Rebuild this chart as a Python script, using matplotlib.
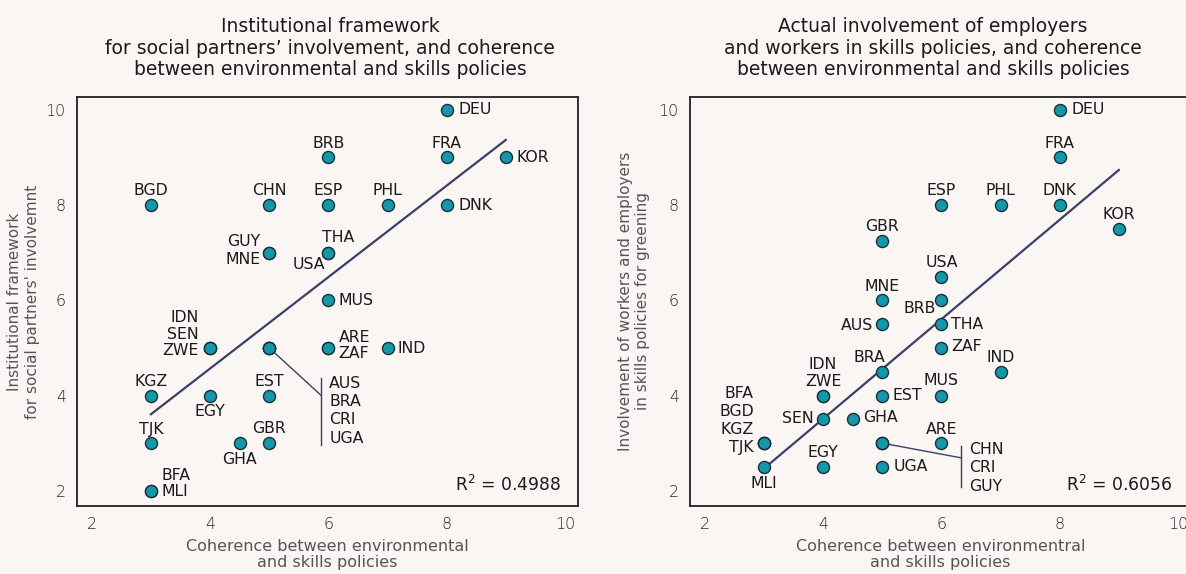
import numpy as np
import matplotlib
matplotlib.use("Agg")
import matplotlib.pyplot as plt

# ---------------- data ----------------
countries = ["DEU", "BRB", "FRA", "KOR", "BGD", "CHN", "ESP", "PHL", "DNK", "GUY",
             "MNE", "THA", "USA", "MUS", "IDN", "SEN", "ZWE", "AUS", "BRA", "CRI",
             "UGA", "ARE", "ZAF", "IND", "KGZ", "EGY", "EST", "TJK", "GHA", "GBR",
             "BFA", "MLI"]
# Left panel
coherence_left = [8, 6, 8, 9, 3, 5, 6, 7, 8, 5,
                  5, 6, 6, 6, 4, 4, 4, 5, 5, 5,
                  5, 6, 6, 7, 3, 4, 5, 3, 4.5, 5,
                  3, 3]
framework_left = [10, 9, 9, 9, 8, 8, 8, 8, 8, 7,
                  7, 7, 7, 6, 5, 5, 5, 5, 5, 5,
                  5, 5, 5, 5, 4, 4, 4, 3, 3, 3,
                  2, 2]
# Right panel
coherence_right = [8, 6, 8, 9, 3, 5, 6, 7, 8, 5,
                   5, 6, 6, 6, 4, 4, 4, 5, 5, 5,
                   5, 6, 6, 7, 3, 4, 5, 3, 4.5, 5,
                   3, 3]
involvement_right = [10, 6, 9, 7.5, 3, 3, 8, 8, 8, 3,
                     6, 5.5, 6.5, 4, 4, 3.5, 4, 5.5, 4.5, 3,
                     2.5, 3, 5, 4.5, 3, 2.5, 4, 3, 3.5, 7.25,
                     3, 2.5]
r2_left_text = "R$^2$ = 0.4988"
r2_right_text = "R$^2$ = 0.6056"

title_left = "Institutional framework\nfor social partners\u2019 involvement, and coherence\nbetween environmental and skills policies"
title_right = "Actual involvement of employers\nand workers in skills policies, and coherence\nbetween environmental and skills policies"
xlabel_left = "Coherence between environmental\nand skills policies"
xlabel_right = "Coherence between environmentral\nand skills policies"
ylabel_left = "Institutional framework\nfor social partners' involvemnt"
ylabel_right = "Involvement of workers and employers\nin skills policies for greening"
ticks = [2, 4, 6, 8, 10]

# ---------------- style / layout ----------------
BG = "#f9f6f3"
DOT = "#1497a9"
DOT_EDGE = "#1a3038"
LINE = "#3d4066"
TXT = "#1b1b1b"
GRAY = "#555555"
FONT = ["DejaVu Sans"]
plt.rcParams["font.family"] = FONT
plt.rcParams["mathtext.fontset"] = "dejavusans"

# label placement (dx px, dy px, ha)
place_left = {
    "DEU": (12, 0, "left"), "BRB": (0, 14, "center"), "FRA": (0, 14, "center"),
    "KOR": (11, 0, "left"), "BGD": (0, 15, "center"), "CHN": (0, 15, "center"),
    "ESP": (0, 15, "center"), "PHL": (0, 15, "center"), "DNK": (12, 0, "left"),
    "GUY": (-9, 11, "right"), "MNE": (-9, -7, "right"), "THA": (10, 15, "center"),
    "USA": (-3, -12, "right"), "MUS": (10, 0, "left"), "IDN": (-11, 30, "right"),
    "SEN": (-11, 13, "right"), "ZWE": (-11, -3, "right"), "ARE": (10, 10, "left"),
    "ZAF": (10, -6, "left"), "IND": (10, -1, "left"), "KGZ": (0, 14, "center"),
    "EGY": (0, -16, "center"), "EST": (0, 14, "center"), "TJK": (0, 14, "center"),
    "GHA": (0, -16, "center"), "GBR": (0, 15, "center"), "BFA": (11, 15, "left"),
    "MLI": (11, -1, "left"),
}
bracket_left = dict(members=["AUS", "BRA", "CRI", "UGA"], anchor=(5, 5),
                    bx=5.88, bmid=4.0, btop=4.37, bbot=2.96, ly0=4.26, lstep=0.385)

place_right = {
    "DEU": (12, 0, "left"), "FRA": (0, 14, "center"), "ESP": (0, 15, "center"),
    "PHL": (0, 15, "center"), "DNK": (0, 15, "center"), "KOR": (0, 14, "center"),
    "GBR": (0, 14, "center"), "USA": (0, 14, "center"), "MNE": (0, 14, "center"),
    "BRB": (-6, -8, "right"), "AUS": (-9, -1, "right"), "THA": (10, 0, "left"),
    "ZAF": (10, 1, "left"), "IND": (0, 14, "center"), "BRA": (-13, 14, "center"),
    "IDN": (0, 31, "center"), "ZWE": (0, 14, "center"), "EST": (10, 0, "left"),
    "MUS": (0, 15, "center"), "BFA": (-10, 50, "right"), "BGD": (-10, 32, "right"),
    "KGZ": (-10, 14, "right"), "TJK": (-10, -4, "right"), "SEN": (-9, 1, "right"),
    "GHA": (10, 2, "left"), "ARE": (0, 14, "center"), "EGY": (0, 14, "center"),
    "UGA": (11, 0, "left"), "MLI": (0, -17, "center"),
}
bracket_right = dict(members=["CHN", "CRI", "GUY"], anchor=(5, 3),
                     bx=6.34, bmid=2.69, btop=2.94, bbot=2.08, ly0=2.86, lstep=0.38)

W, H = 1186, 574
fig = plt.figure(figsize=(W / 100, H / 100), dpi=100, facecolor=BG)

def px(v):
    return v * 0.72

LABEL_FS = 11.3

def draw(rect, xs, ys, place, bracket, title, title_x, xlabel, ylabel, r2, r2_x,
         hide_right, ylpad):
    ax = fig.add_axes(rect)
    ax.set_facecolor(BG)
    ax.set_xlim(1.75, 10.22)
    ax.set_ylim(1.68, 10.27)
    ax.set_xticks(ticks)
    ax.set_yticks(ticks)
    ax.tick_params(length=0, labelsize=11.5, labelcolor="#2a2a2a", pad=8)
    for lab in ax.get_xticklabels() + ax.get_yticklabels():
        lab.set_fontweight("light")
    for s in ax.spines.values():
        s.set_color("#222222")
        s.set_linewidth(1.3)
    if hide_right:
        ax.spines["right"].set_visible(False)
    ax.set_xlabel(xlabel, fontsize=11.5, color=GRAY, labelpad=5, linespacing=1.12)
    ax.set_ylabel(ylabel, fontsize=11, color=GRAY, labelpad=ylpad, linespacing=1.22)

    xs = np.asarray(xs, float)
    ys = np.asarray(ys, float)
    slope, intercept = np.polyfit(xs, ys, 1)
    xl = np.array([xs.min(), xs.max()])
    ax.plot(xl, slope * xl + intercept, color=LINE, lw=1.6, zorder=2)

    # bracket
    ax_, ay_ = bracket["anchor"]
    ax.plot([ax_, bracket["bx"]], [ay_, bracket["bmid"]], color=LINE, lw=1.0, zorder=2)
    ax.plot([bracket["bx"], bracket["bx"]], [bracket["btop"], bracket["bbot"]],
            color=LINE, lw=1.0, zorder=2)
    for i, name in enumerate(bracket["members"]):
        ax.annotate(name, (bracket["bx"], bracket["ly0"] - i * bracket["lstep"]),
                    xytext=(px(8), 0), textcoords="offset points",
                    ha="left", va="center", fontsize=LABEL_FS, color=TXT)

    ax.scatter(xs, ys, s=75, color=DOT, edgecolor=DOT_EDGE, linewidth=1.0, zorder=3)
    for name, x, y in zip(countries, xs, ys):
        if name in place:
            dx, dy, ha = place[name]
            ax.annotate(name, (x, y), xytext=(px(dx), px(dy)), textcoords="offset points",
                        ha=ha, va="center", fontsize=LABEL_FS, color=TXT)

    ax.text(r2_x, 2.12, r2, fontsize=12.3, color=TXT, ha="center", va="center")
    fig.text(title_x, 1 - 48 / H, title, ha="center", va="center", fontsize=13.5,
             color=TXT, linespacing=1.17)
    return ax

axw = 501 / W
axh = 409 / H
bottom = 1 - 506 / H
draw([77 / W, bottom, axw, axh], coherence_left, framework_left, place_left, bracket_left,
     title_left, 330 / W, xlabel_left, ylabel_left, r2_left_text, 9.03, False, 4)
draw([690 / W, bottom, axw, axh], coherence_right, involvement_right, place_right, bracket_right,
     title_right, 933 / W, xlabel_right, ylabel_right, r2_right_text, 9.0, True, 6)

fig.savefig("out.png", dpi=100, facecolor=BG)
